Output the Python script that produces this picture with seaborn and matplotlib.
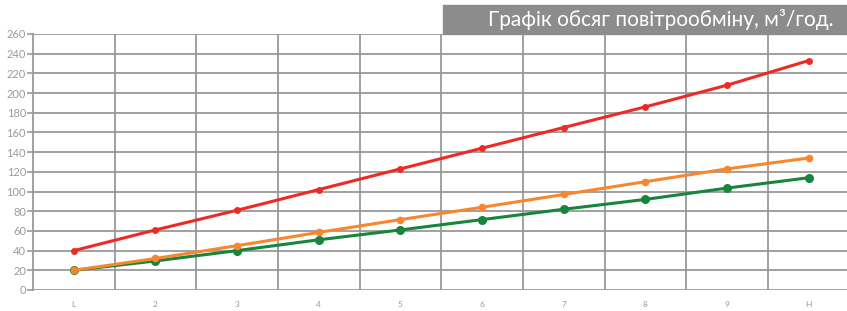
import pandas as pd
import matplotlib.pyplot as plt
import seaborn as sns
from matplotlib.patches import Rectangle

categories = ['L', '2', '3', '4', '5', '6', '7', '8', '9', 'H']
green_vals = [20, 29.5, 40, 51, 61, 71.5, 82, 92, 103.5, 114]
orange_vals = [20, 32, 45, 58.5, 71.5, 84, 97, 110, 123, 134]
red_vals = [40, 61, 81, 102, 123, 144, 165, 186, 208, 233]
series = ['green', 'orange', 'red']
colors = ['#17853b', '#f7862f', '#ee2a24']
title = 'Графік обсяг повітрообміну, м³/год.'

rows = []
for name, vals in zip(series, [green_vals, orange_vals, red_vals]):
    for i, v in enumerate(vals):
        rows.append({'x': i, 'y': v, 'series': name})
df = pd.DataFrame(rows)

sns.set_style('white')
plt.rcParams['font.family'] = ['Lato', 'DejaVu Sans']

fig = plt.figure(figsize=(8.47, 3.11), dpi=100)
ax = fig.add_axes([33 / 847, 21 / 311, 1 - 33 / 847, 256 / 311])

sns.lineplot(data=df, x='x', y='y', hue='series', hue_order=series,
             palette=colors, marker='o', linewidth=2.2, markersize=5.5,
             markeredgewidth=0, legend=False, ax=ax, zorder=3)

# green dots are a little bigger in the original
for line, ms in zip(ax.lines, [6.5, 5.5, 5]):
    line.set_markersize(ms)

ax.set_xlim(-0.5, 9.47)
ax.set_ylim(0, 260)
ax.set_yticks(range(0, 261, 20))
ax.set_xticks(range(len(categories)))
ax.set_xticklabels(categories)
ax.set_xticks([i + 0.5 for i in range(9)], minor=True)
ax.grid(True, axis='y', which='major', color='#999999', linewidth=1.3)
ax.grid(True, axis='x', which='minor', color='#999999', linewidth=1.3)
ax.grid(False, axis='x', which='major')
ax.set_xlabel('')
ax.set_ylabel('')

for s in ['top', 'right', 'bottom']:
    ax.spines[s].set_visible(False)
ax.spines['left'].set_color('#999999')
ax.spines['left'].set_linewidth(1.3)

ax.tick_params(axis='y', which='major', length=4, width=1.2, color='#999999',
               labelsize=8, labelcolor='#9a9a9a', pad=1, left=True)
ax.tick_params(axis='x', which='major', length=0, labelsize=6,
               labelcolor='#9a9a9a', pad=8)
ax.tick_params(axis='x', which='minor', length=0)

fig.patches.append(Rectangle((443 / 847, 1 - 34 / 311), 1 - 443 / 847, 29 / 311,
                             transform=fig.transFigure, color='#8c8c8c',
                             zorder=0))
fig.text(833 / 847, 1 - 19 / 311, title, ha='right', va='center',
         color='white', fontsize=15, fontweight='normal')

fig.savefig('out.png', dpi=100)
